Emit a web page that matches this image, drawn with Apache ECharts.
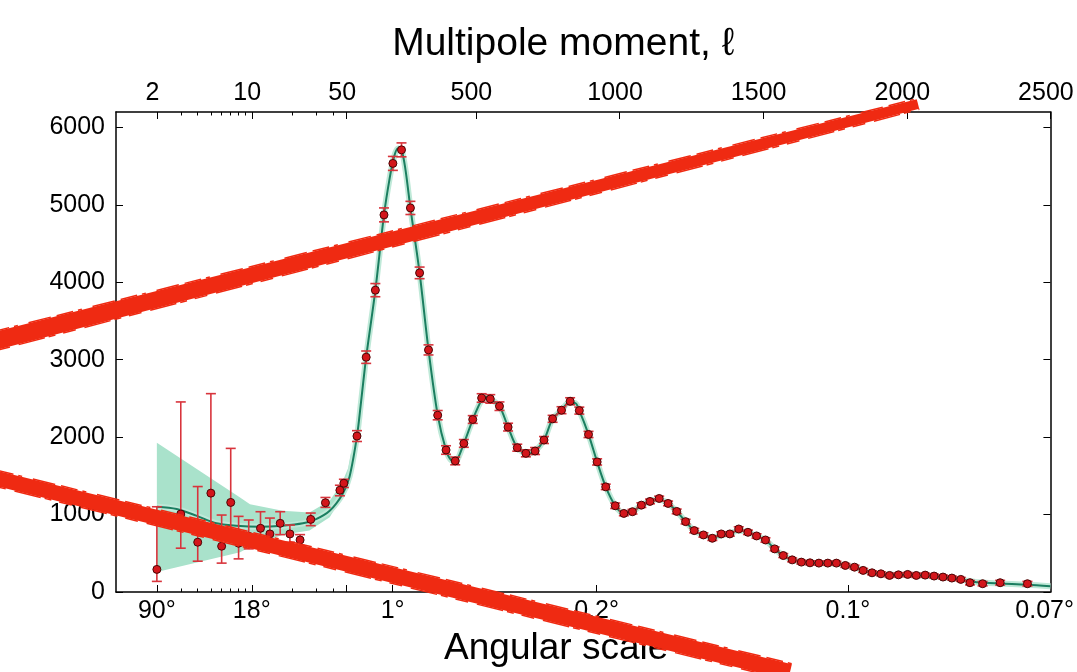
<!DOCTYPE html>
<html>
<head>
<meta charset="utf-8">
<title>CMB power spectrum</title>
<script src="https://cdn.jsdelivr.net/npm/echarts@6/dist/echarts.min.js"></script>
<style>
  html, body { margin: 0; padding: 0; background: #fff; }
  #chart { width: 1077px; height: 672px; }
</style>
</head>
<body>
<div id="chart"></div>
<script>
// Low multipoles: value with asymmetric error bar ends
const ELL_LOW = [2, 3, 4, 5, 6, 7, 8, 9.5, 11.6, 13.6, 16.2, 19.1, 22.7, 27.2, 34.9, 44.6, 47.7];
const D_LOW = [292, 1007, 643, 1277, 591, 1157, 630, 720, 823, 750, 887, 750, 672, 938, 1153, 1315, 1405];
const HI_LOW = [1101, 2455, 1362, 2562, 994, 1855, 977, 930, 1037, 955, 1037, 865, 741, 1020, 1221, 1379, 1456];
const LO_LOW = [137, 566, 398, 835, 373, 707, 428, 557, 651, 536, 741, 643, 600, 857, 1093, 1243, 1350];

// Binned high multipoles
const ELL_HIGH = [86, 118, 150, 180, 211, 241, 272, 304, 335, 367,
  396, 428, 458, 489, 520, 550, 582, 612, 644, 674,
  706, 737, 767, 798, 828, 860, 892, 922, 952, 985,
  1015, 1045, 1076, 1106, 1138, 1169, 1199, 1230, 1260, 1292,
  1323, 1354, 1384, 1415, 1447, 1477, 1508, 1540, 1570, 1601,
  1633, 1663, 1694, 1725, 1755, 1786, 1818, 1848, 1879, 1910,
  1940, 1971, 2003, 2033, 2064, 2095, 2126, 2157, 2188, 2220,
  2264, 2325, 2420];
const D_HIGH = [2014, 3033, 3899, 4871, 5536, 5711, 4961, 4122, 3127, 2284,
  1834, 1693, 1919, 2228, 2506, 2494, 2400, 2130, 1864, 1791,
  1821, 1963, 2237, 2348, 2464, 2343, 2035, 1680, 1358, 1114,
  1015, 1037, 1122, 1170, 1208, 1144, 1041, 909, 793, 737,
  694, 750, 750, 814, 771, 724, 672, 557, 471, 415,
  386, 377, 373, 373, 373, 343, 321, 279, 248, 235,
  214, 222, 227, 214, 218, 206, 193, 180, 163, 120,
  107, 120, 107];
const ERR_HIGH = [70, 80, 85, 90, 90, 90, 85, 75, 65, 60,
  55, 50, 50, 50, 55, 55, 55, 50, 45, 45,
  45, 45, 45, 45, 45, 45, 40, 40, 35, 35,
  30, 30, 30, 30, 30, 30, 30, 30, 28, 28,
  28, 28, 28, 28, 28, 28, 28, 25, 25, 25,
  25, 25, 25, 25, 25, 25, 25, 25, 25, 25,
  25, 25, 25, 25, 25, 25, 25, 25, 25, 28,
  28, 30, 30];

// Best-fit model curve
const MODEL_ELL = [2, 2.8, 3.9, 5.5, 7.7, 11.4, 16.9, 23.8, 29.8, 37.5, 46.6, 60, 86, 100, 118, 150, 180, 200, 215, 228,
  241, 255, 272, 304, 335, 367, 396, 415, 428, 458, 489, 520, 537, 550, 582, 612, 644, 680, 706, 737,
  767, 798, 822, 845, 860, 892, 922, 952, 985, 1015, 1045, 1076, 1106, 1135, 1169, 1199, 1230, 1260, 1292, 1323,
  1354, 1384, 1415, 1447, 1477, 1508, 1540, 1570, 1601, 1633, 1663, 1700, 1755, 1786, 1818, 1848, 1879, 1910, 1950, 2000,
  2064, 2126, 2188, 2250, 2325, 2420, 2500];
const MODEL_D = [1100, 1071, 986, 887, 857, 844, 857, 887, 942, 1050, 1264, 1490, 2014, 2450, 3033, 3899, 4871, 5350, 5620, 5730,
  5711, 5450, 4961, 4122, 3127, 2284, 1834, 1700, 1693, 1919, 2228, 2480, 2520, 2494, 2400, 2130, 1864, 1785, 1821, 1963,
  2237, 2348, 2440, 2440, 2343, 2035, 1680, 1358, 1114, 1015, 1037, 1122, 1170, 1200, 1144, 1041, 909, 793, 737, 705,
  730, 760, 790, 771, 724, 672, 557, 471, 415, 386, 377, 370, 365, 343, 318, 279, 250, 232, 222, 220,
  210, 190, 160, 125, 110, 95, 75];

// Cosmic variance band at low multipoles
const BAND_ELL = [2, 8.2, 9.7, 16.9, 26.6, 37.5, 46, 55, 65];
const BAND_UP = [1928, 1221, 1135, 1050, 1028, 1178, 1400, 1600, 1800];
const BAND_DN = [257, 514, 580, 740, 793, 964, 1221, 1380, 1560];

// Axis ticks
const TOP_TICKS = [2, 10, 50, 500, 1000, 1500, 2000, 2500];
const TOP_LABELS = ['2', '10', '50', '500', '1000', '1500', '2000', '2500'];
const MINOR_TICKS = [3, 4, 5, 6, 7, 8, 9, 20, 30, 40];
const ANGLE_LABELS = ['90°', '18°', '1°', '0.2°', '0.1°', '0.07°'];
const ANGLE_ELL = [2, 10, 210, 920, 1795, 2480];
const BOTTOM_MAJOR = [2, 10, 50, 210, 920, 1795];
const Y_TICKS = [0, 1000, 2000, 3000, 4000, 5000, 6000];

// hybrid scale: log below l=50, linear above
const ELL_BREAK = 50;
const LIN_STEP = 0.002116;
function u(l) {
  return l <= ELL_BREAK ? Math.log10(l) : Math.log10(ELL_BREAK) + (l - ELL_BREAK) * LIN_STEP;
}
const U_MAX = u(2500);

function lookup(values, labels) {
  return function (v) {
    for (let i = 0; i < values.length; i++) {
      if (Math.abs(u(values[i]) - v) < 1e-6) return labels[i];
    }
    return '';
  };
}

const FONT = 'Liberation Sans, Arial, sans-serif';
const AX_LINE = { show: true, onZero: false, lineStyle: { color: '#000', width: 1.5 } };

const errData = ELL_LOW.map((l, i) => [u(l), LO_LOW[i], HI_LOW[i]])
  .concat(ELL_HIGH.map((l, i) => [u(l), D_HIGH[i] - ERR_HIGH[i], D_HIGH[i] + ERR_HIGH[i]]));
const pointData = ELL_LOW.map((l, i) => [u(l), D_LOW[i]])
  .concat(ELL_HIGH.map((l, i) => [u(l), D_HIGH[i]]));
const modelData = MODEL_ELL.map((l, i) => [u(l), MODEL_D[i]]);

// hand-drawn red marker strokes over the figure
const RED = '#ef2a12';
function stroke(x0, y0, x1, y1, w0, w1) {
  const dx = x1 - x0, dy = y1 - y0, len = Math.hypot(dx, dy);
  const nx = -dy / len, ny = dx / len;
  const out = [];
  out.push({ type: 'polygon', z: 100, style: { fill: RED },
    shape: { points: [[x0 + nx * w0 / 2, y0 + ny * w0 / 2], [x1 + nx * w1 / 2, y1 + ny * w1 / 2],
      [x1 - nx * w1 / 2, y1 - ny * w1 / 2], [x0 - nx * w0 / 2, y0 - ny * w0 / 2]] } });
  // slightly ragged edges
  [1, -1].forEach((s, k) => {
    const a = s * (w0 / 2 + 0.5), b = s * (w1 / 2 + 0.5);
    out.push({ type: 'line', z: 101,
      shape: { x1: x0 + nx * a, y1: y0 + ny * a, x2: x1 + nx * b, y2: y1 + ny * b },
      style: { stroke: RED, lineWidth: 1.5, lineDash: k ? [17, 5, 4, 11, 23, 6] : [13, 9, 27, 4, 7, 8] } });
  });
  return out;
}

const chart = echarts.init(document.getElementById('chart'), null, { renderer: 'canvas' });

chart.setOption({
  animation: false,
  backgroundColor: '#fff',
  textStyle: { fontFamily: FONT },
  grid: { left: 116, right: 25, top: 112, bottom: 77 },
  xAxis: [
    {
      type: 'value', position: 'bottom', min: 0, max: U_MAX,
      axisLine: AX_LINE,
      axisTick: { inside: true, length: 7, customValues: BOTTOM_MAJOR.map(u), lineStyle: { color: '#000' } },
      axisLabel: { customValues: ANGLE_ELL.map(u), formatter: lookup(ANGLE_ELL, ANGLE_LABELS),
        fontSize: 25, color: '#000', margin: 7 },
      splitLine: { show: false },
      name: 'Angular scale', nameLocation: 'middle', nameGap: 38,
      nameTextStyle: { fontSize: 37, color: '#000', padding: [0, 54, 0, 0] }
    },
    {
      type: 'value', position: 'bottom', min: 0, max: U_MAX,
      axisLine: { show: false, onZero: false },
      axisTick: { inside: true, length: 3.5, customValues: MINOR_TICKS.map(u), lineStyle: { color: '#000' } },
      axisLabel: { show: false }, splitLine: { show: false }
    },
    {
      type: 'value', position: 'top', min: 0, max: U_MAX,
      axisLine: AX_LINE,
      axisTick: { inside: true, length: 7, customValues: TOP_TICKS.map(u), lineStyle: { color: '#000' } },
      axisLabel: { customValues: TOP_TICKS.map(u), formatter: lookup(TOP_TICKS, TOP_LABELS),
        fontSize: 25, color: '#000', margin: 6, padding: [0, 9, 0, 0] },
      splitLine: { show: false },
      name: 'Multipole moment, ℓ', nameLocation: 'middle', nameGap: 48,
      nameTextStyle: { fontSize: 39, color: '#000', padding: [0, 40, 0, 0] }
    },
    {
      type: 'value', position: 'top', min: 0, max: U_MAX,
      axisLine: { show: false, onZero: false },
      axisTick: { inside: true, length: 3.5, customValues: MINOR_TICKS.map(u), lineStyle: { color: '#000' } },
      axisLabel: { show: false }, splitLine: { show: false }
    }
  ],
  yAxis: [
    {
      type: 'value', position: 'left', min: 0, max: 6200,
      axisLine: AX_LINE,
      axisTick: { inside: true, length: 7, customValues: Y_TICKS, lineStyle: { color: '#000' } },
      axisLabel: { customValues: Y_TICKS, formatter: v => String(v), fontSize: 25, color: '#000', margin: 11 },
      splitLine: { show: false }
    },
    {
      type: 'value', position: 'right', min: 0, max: 6200,
      axisLine: AX_LINE,
      axisTick: { inside: true, length: 7, customValues: Y_TICKS, lineStyle: { color: '#000' } },
      axisLabel: { show: false }, splitLine: { show: false }
    }
  ],
  series: [
    {
      // low-l cosmic variance band
      type: 'custom',
      data: [[0, 0]],
      clip: true,
      z: 1,
      renderItem: function (params, api) {
        const top = BAND_ELL.map((l, i) => api.coord([u(l), BAND_UP[i]]));
        const bot = BAND_ELL.map((l, i) => api.coord([u(l), BAND_DN[i]])).reverse();
        return { type: 'polygon', shape: { points: top.concat(bot) }, style: { fill: '#a9e2cb' } };
      }
    },
    {
      type: 'line', data: modelData, smooth: 0.3, symbol: 'none', z: 2,
      lineStyle: { color: '#bfe9d8', width: 6 }
    },
    {
      type: 'line', data: modelData, smooth: 0.3, symbol: 'none', z: 3,
      lineStyle: { color: '#1b7e60', width: 2 }
    },
    {
      type: 'custom', data: errData, z: 4,
      encode: { x: 0, y: [1, 2] },
      renderItem: function (params, api) {
        const x = api.value(0);
        const p1 = api.coord([x, api.value(2)]);
        const p2 = api.coord([x, api.value(1)]);
        const hw = 5;
        const st = { stroke: '#d8343c', lineWidth: 1.6 };
        return {
          type: 'group',
          children: [
            { type: 'line', shape: { x1: p1[0], y1: p1[1], x2: p2[0], y2: p2[1] }, style: st },
            { type: 'line', shape: { x1: p1[0] - hw, y1: p1[1], x2: p1[0] + hw, y2: p1[1] }, style: st },
            { type: 'line', shape: { x1: p2[0] - hw, y1: p2[1], x2: p2[0] + hw, y2: p2[1] }, style: st }
          ]
        };
      }
    },
    {
      type: 'scatter', data: pointData, symbolSize: 8, z: 5,
      itemStyle: { color: '#d3161b', borderColor: '#4a0606', borderWidth: 1, opacity: 1 }
    }
  ],
  graphic: stroke(-5, 341, 918, 104, 18, 10).concat(stroke(-5, 478, 790, 672, 15, 16))
});
</script>
</body>
</html>
